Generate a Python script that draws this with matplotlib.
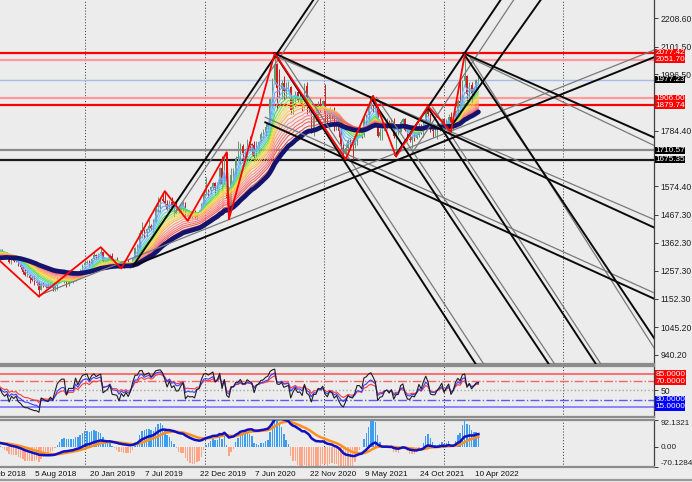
import numpy as np
import pandas as pd
import matplotlib
matplotlib.use('Agg')
import matplotlib.pyplot as plt
from matplotlib.lines import Line2D

plt.rcParams['font.family'] = ['Liberation Sans', 'DejaVu Sans']

# weekly XAUUSD, first candle = week of 22 Apr 2018
start = np.datetime64('2018-04-22')

# closes before the first visible candle (only feed the indicators)
pre_close = [1280, 1266, 1270, 1275, 1294, 1288, 1280, 1248, 1256, 1266, 1303, 1322, 1338, 1332,
             1349, 1333, 1316, 1347, 1330, 1323, 1324, 1314, 1347, 1325, 1332, 1345, 1336]

close = [1323, 1315, 1319, 1291, 1302, 1294, 1298, 1278, 1270, 1252,
         1241, 1241, 1231, 1223, 1214, 1212, 1184, 1206, 1200, 1197,
         1194, 1199, 1192, 1203, 1219, 1227, 1233, 1233, 1209, 1222,
         1222, 1222, 1248, 1238, 1257, 1279, 1287, 1290, 1282, 1303,
         1318, 1314, 1322, 1328, 1294, 1298, 1302, 1313, 1292, 1291,
         1290, 1275, 1286, 1279, 1285, 1277, 1284, 1305, 1341, 1341,
         1399, 1409, 1399, 1415, 1426, 1419, 1440, 1496, 1513, 1526,
         1520, 1507, 1488, 1516, 1497, 1505, 1489, 1490, 1504, 1514,
         1459, 1468, 1463, 1464, 1460, 1476, 1479, 1510, 1552, 1560,
         1557, 1571, 1589, 1570, 1584, 1643, 1585, 1673, 1529, 1498,
         1617, 1620, 1683, 1683, 1726, 1700, 1702, 1743, 1735, 1730,
         1685, 1729, 1743, 1771, 1775, 1798, 1810, 1902, 1975, 2035,
         1944, 1940, 1964, 1934, 1941, 1950, 1862, 1900, 1930, 1899,
         1902, 1879, 1951, 1889, 1871, 1788, 1839, 1839, 1881, 1877,
         1896, 1850, 1829, 1856, 1848, 1814, 1824, 1784, 1734, 1700,
         1720, 1745, 1733, 1729, 1744, 1777, 1777, 1768, 1832, 1844,
         1881, 1903, 1891, 1877, 1764, 1781, 1784, 1808, 1815, 1801,
         1814, 1763, 1780, 1781, 1818, 1827, 1788, 1753, 1751, 1761,
         1757, 1768, 1796, 1783, 1818, 1865, 1846, 1788, 1783, 1783,
         1799, 1811, 1829, 1797, 1818, 1835, 1792, 1808, 1859, 1898,
         1889, 1970, 1989, 1921, 1958, 1925, 1946, 1975, 1978]

high = [1338, 1326, 1326, 1322, 1304, 1308, 1303, 1309, 1282, 1272,
        1263, 1260, 1245, 1236, 1237, 1222, 1219, 1214, 1214, 1207,
        1212, 1210, 1204, 1207, 1233, 1233, 1243, 1237, 1237, 1225,
        1230, 1230, 1250, 1252, 1263, 1283, 1298, 1299, 1298, 1304,
        1326, 1322, 1324, 1346, 1328, 1303, 1310, 1320, 1324, 1300,
        1310, 1292, 1288, 1289, 1290, 1303, 1287, 1306, 1347, 1359,
        1411, 1439, 1413, 1419, 1453, 1433, 1451, 1510, 1535, 1531,
        1555, 1557, 1524, 1523, 1535, 1519, 1517, 1500, 1507, 1518,
        1515, 1473, 1479, 1466, 1484, 1479, 1484, 1512, 1556, 1611,
        1564, 1575, 1591, 1590, 1590, 1649, 1689, 1692, 1703, 1558,
        1645, 1645, 1690, 1747, 1739, 1734, 1715, 1752, 1765, 1737,
        1745, 1745, 1745, 1779, 1789, 1818, 1815, 1906, 1984, 2075,
        2039, 2016, 1976, 1992, 1966, 1973, 1952, 1906, 1933, 1933,
        1932, 1915, 1965, 1966, 1898, 1875, 1843, 1876, 1896, 1906,
        1900, 1959, 1864, 1875, 1866, 1875, 1855, 1827, 1815, 1742,
        1740, 1755, 1756, 1741, 1758, 1785, 1797, 1790, 1837, 1846,
        1890, 1913, 1916, 1903, 1877, 1795, 1795, 1818, 1834, 1825,
        1832, 1832, 1781, 1795, 1823, 1834, 1833, 1808, 1788, 1764,
        1781, 1800, 1814, 1810, 1823, 1868, 1877, 1849, 1808, 1793,
        1814, 1815, 1831, 1831, 1829, 1848, 1853, 1815, 1864, 1902,
        1974, 1974, 2070, 1993, 1966, 1966, 1948, 1978, 1998]

low = [1316, 1302, 1304, 1286, 1282, 1291, 1291, 1275, 1262, 1246,
       1238, 1235, 1211, 1218, 1204, 1204, 1160, 1183, 1195, 1191,
       1189, 1192, 1180, 1182, 1183, 1218, 1221, 1211, 1196, 1200,
       1216, 1211, 1217, 1235, 1232, 1255, 1276, 1281, 1276, 1277,
       1301, 1303, 1302, 1320, 1291, 1280, 1290, 1297, 1287, 1280,
       1288, 1268, 1266, 1267, 1275, 1273, 1269, 1280, 1305, 1320,
       1331, 1382, 1381, 1386, 1402, 1412, 1400, 1437, 1480, 1480,
       1515, 1505, 1484, 1486, 1484, 1459, 1474, 1475, 1479, 1478,
       1456, 1445, 1458, 1452, 1457, 1450, 1467, 1475, 1510, 1541,
       1536, 1546, 1563, 1547, 1561, 1580, 1563, 1585, 1505, 1451,
       1482, 1567, 1611, 1669, 1660, 1676, 1682, 1686, 1717, 1692,
       1670, 1685, 1704, 1743, 1756, 1764, 1791, 1807, 1894, 1962,
       1863, 1911, 1902, 1902, 1907, 1933, 1848, 1849, 1873, 1893,
       1890, 1860, 1871, 1849, 1854, 1774, 1765, 1820, 1826, 1855,
       1865, 1817, 1803, 1802, 1830, 1784, 1788, 1761, 1717, 1687,
       1677, 1713, 1722, 1678, 1721, 1730, 1764, 1756, 1761, 1808,
       1809, 1868, 1855, 1868, 1761, 1750, 1750, 1784, 1791, 1794,
       1789, 1757, 1687, 1770, 1779, 1802, 1782, 1745, 1742, 1721,
       1746, 1753, 1760, 1771, 1759, 1818, 1841, 1780, 1762, 1763,
       1753, 1785, 1789, 1783, 1790, 1811, 1780, 1788, 1807, 1849,
       1878, 1889, 1950, 1895, 1910, 1890, 1915, 1942, 1964]

# zigzag pivots (candle index, price)
zz_idx = [-10, 16, 43, 52, 71, 81, 98, 99, 119, 150, 162, 172, 186, 196, 202]
zz_price = [1365, 1160, 1346, 1266, 1557, 1445, 1703, 1451, 2075, 1677, 1916, 1687, 1877, 1780, 2070]

# hand-drawn trend lines: (week, price) -> (week, price)
trend_black = [(58.2, 1276, 136.9, 2277), (172.8, 1692, 218.7, 2277), (196.4, 1793, 236.2, 2277),
               (58.2, 1276, 285.7, 2061), (119.9, 2076, 285.7, 1420), (115.9, 1816, 285.7, 1152),
               (202.5, 2076, 285.7, 1759), (119.9, 2076, 207.8, 906), (161.9, 1910, 239.7, 906),
               (186.8, 1873, 260.3, 906), (202.5, 2076, 285.7, 1004)]
trend_gray = [(76.6, 1476, 139.1, 2277), (180.0, 1700, 224.4, 2277), (16.6, 1163, 285.7, 2088),
              (121.6, 2061, 285.7, 1450), (115.9, 1835, 285.7, 1174), (205.6, 2058, 285.7, 1729),
              (122.9, 2069, 211.3, 906), (164.5, 1910, 242.3, 906), (189.0, 1873, 262.5, 906),
              (204.7, 2069, 285.7, 967)]

hlevels = [2077.42, 2051.70, 1977.23, 1906.00, 1879.74, 1710.57, 1675.35]
hcolors = ['#ff0000', '#ff9a9a', '#a8bce8', '#ff9a9a', '#ff0000', '#8a8a8a', '#1a1a1a']
htags = ['#ff0000', '#ff0000', '#000000', '#ff0000', '#ff0000', '#000000', '#000000']

price_ticks = [2208.60, 2101.50, 1996.50, 1784.40, 1574.40, 1467.30, 1362.30, 1257.30, 1152.30, 1045.20, 940.20]
date_labels = ['2018-02-18', '2018-08-05', '2019-01-20', '2019-07-07', '2019-12-22', '2020-06-07',
               '2020-11-22', '2021-05-09', '2021-10-24', '2022-04-10']
year_starts = ['2019-01-01', '2020-01-01', '2021-01-01', '2022-01-01', '2023-01-01']

rib_periods = [3, 5, 7, 9, 11, 13, 15, 17, 19, 21, 24, 27, 30, 33, 36, 40]
rib_colors = ['#7fb2ff', '#6aa4f5', '#5ec0ff', '#5ad6c8', '#4cd64c', '#86e04a', '#c8e23a', '#ffd84a',
              '#ffc860', '#ffb050', '#ff9c70', '#ff8c8c', '#ff7c7c', '#f46c6c', '#ec5c5c', '#e04c4c']


def ema(x, n):
    a = 2.0 / (n + 1)
    out = np.empty_like(x)
    out[0] = x[0]
    for i in range(1, len(x)):
        out[i] = a * x[i] + (1 - a) * out[i - 1]
    return out


def rsi(x, n):
    d = np.diff(x, prepend=x[0])
    up = np.clip(d, 0, None)
    dn = np.clip(-d, 0, None)
    au = np.empty_like(x)
    ad = np.empty_like(x)
    au[0], ad[0] = up[1:n + 1].mean(), dn[1:n + 1].mean()
    for i in range(1, len(x)):
        au[i] = au[i - 1] + (up[i] - au[i - 1]) / n
        ad[i] = ad[i - 1] + (dn[i] - ad[i - 1]) / n
    return 100 * au / (au + ad)


def pos(d):
    return (np.datetime64(d) - start).astype(int) / 7 + 1


c = np.array(close, float)
o = np.array(pre_close[-1:] + close[:-1], float)
h = np.maximum(np.array(high, float), np.maximum(o, c))
l = np.minimum(np.array(low, float), np.minimum(o, c))
t = np.arange(len(c)) + 1
allc = np.array(pre_close + close, float)
t_all = np.arange(len(allc)) - len(pre_close) + 1

bg = '#ececec'
W, H = 692, 482
fig = plt.figure(figsize=(W / 100, H / 100), dpi=100, facecolor=bg)
FS = 6.2
TFS = 5.9


def px_axes(x0, y0, x1, y1):
    a = fig.add_axes([x0 / W, 1 - y1 / H, (x1 - x0) / W, (y1 - y0) / H])
    a.set_facecolor(bg)
    a.set_xlim(0, 285.7)
    a.set_xticks([])
    a.yaxis.tick_right()
    a.tick_params(axis='y', direction='out', length=3, width=0.6, labelsize=FS, pad=1.5, colors='#202020')
    a.spines['left'].set_visible(False)
    a.spines['right'].set_color('#404040')
    a.spines['right'].set_linewidth(0.9)
    for s in ('top', 'bottom'):
        a.spines[s].set_color('#8c8c8c')
        a.spines[s].set_linewidth(1.6)
    for yd in year_starts:
        a.axvline(pos(yd), color='#303030', ls=(0, (1, 2)), lw=0.7, zorder=1)
    return a


def tag(a, y, text, fc):
    a.annotate(text, xy=(1, y), xycoords=('axes fraction', 'data'), xytext=(1.0, 0),
               textcoords='offset points', ha='left', va='center', fontsize=TFS, color='white',
               bbox=dict(boxstyle='square,pad=0.02', fc=fc, ec='none'), annotation_clip=False, zorder=10)


def ray(a, w1, p1, w2, p2, **kw):
    k = (p2 - p1) / (w2 - w1)
    a.plot([w1, 300], [p1, p1 + k * (300 - w1)], **kw)


# ---- main price panel ----
ax = px_axes(0, 0, 654, 364)
ax.spines['top'].set_visible(False)
ax.set_ylim(906, 2276.6)
ax.set_yticks(price_ticks)
ax.set_yticklabels([f'{v:.2f}' for v in price_ticks])

for lv, col in zip(hlevels, hcolors):
    ax.axhline(lv, color=col, lw=1.6 if col != '#a8bce8' else 1.0, zorder=1.5)

bull, bear = '#5e9a6e', '#d01c1c'
cols = np.where(c >= o, bull, bear)
ax.vlines(t, l, h, colors=cols, lw=0.7, zorder=2)
ax.bar(t, np.maximum(np.abs(c - o), 2), bottom=np.minimum(o, c), width=0.62, color=cols, lw=0, zorder=2)

for n, col in zip(rib_periods, rib_colors):
    ax.plot(t_all, ema(allc, n), color=col, lw=0.75, zorder=3)
ax.plot(t_all, ema(allc, 45), color='#14146e', lw=3.4, zorder=4, solid_capstyle='round')

for w1, p1, w2, p2 in trend_gray:
    ray(ax, w1, p1, w2, p2, color='#7a7a7a', lw=0.9, zorder=5)
for w1, p1, w2, p2 in trend_black:
    ray(ax, w1, p1, w2, p2, color='#0a0a0a', lw=1.4, zorder=5)

ax.plot(np.array(zz_idx) + 1, zz_price, color='#ff0000', lw=1.3, zorder=6)

for lv, fc in zip(hlevels, htags):
    tag(ax, lv, f'{lv:.2f}', fc)

# ---- RSI panel ----
ar = px_axes(0, 366, 654, 417)
ar.set_ylim(-6.4, 102.1)
ar.set_yticks([50])
ar.set_yticklabels(['50'])
ar.axhline(85, color='#ff6464', lw=1.3, zorder=1.5)
ar.axhline(70, color='#ff6464', lw=1.0, ls='-.', zorder=1.5)
ar.axhline(50, color='#a8a8a8', lw=1.0, ls=':', zorder=1.5)
ar.axhline(30, color='#5a5aff', lw=1.0, ls='-.', zorder=1.5)
ar.axhline(15, color='#8080ff', lw=1.3, zorder=1.5)
ar.plot(t_all, rsi(allc, 14), color='#ff3c3c', lw=0.8, zorder=3)
ar.plot(t_all, rsi(allc, 9), color='#3c3cff', lw=0.8, zorder=3)
ar.plot(t_all, rsi(allc, 5), color='#1e1e1e', lw=0.8, zorder=3)
tag(ar, 85, '85.0000', '#ff0000')
tag(ar, 70, '70.0000', '#ff0000')
tag(ar, 30, '30.0000', '#0000ff')
tag(ar, 15, '15.0000', '#0000ff')

# ---- MACD panel ----
am = px_axes(0, 420, 654, 467)
am.set_ylim(-70.1284, 92.1321)
am.set_yticks([92.1321, 0, -70.1284])
am.set_yticklabels(['92.1321', '0.00', '-70.1284'])
am.tick_params(axis='y', labelsize=5.9)
tl = am.get_yticklabels()
tl[0].set_va('top')
tl[2].set_va('bottom')
macd = ema(allc, 12) - ema(allc, 26)
sig = ema(macd, 9)
hist = (macd - sig) * 5
am.bar(t_all, hist, width=0.62, color=np.where(hist >= 0, '#3d9df0', '#ffa585'), lw=0, zorder=2)
am.plot(t_all, sig, color='#ff9020', lw=1.8, zorder=3)
am.plot(t_all, macd, color='#1010c0', lw=1.8, zorder=4)

for d in date_labels:
    ts = pd.Timestamp(d)
    am.text(pos(d) - 0.7, -0.15, f'{ts.day} {ts:%b %Y}', transform=am.get_xaxis_transform(),
            ha='left', va='center', fontsize=5.9, color='#101010', clip_on=False)

fig.add_artist(Line2D([0, 1], [2 / H, 2 / H], color='#9a9a9a', lw=1.6))

fig.savefig('out.png', dpi=100, facecolor=bg)
